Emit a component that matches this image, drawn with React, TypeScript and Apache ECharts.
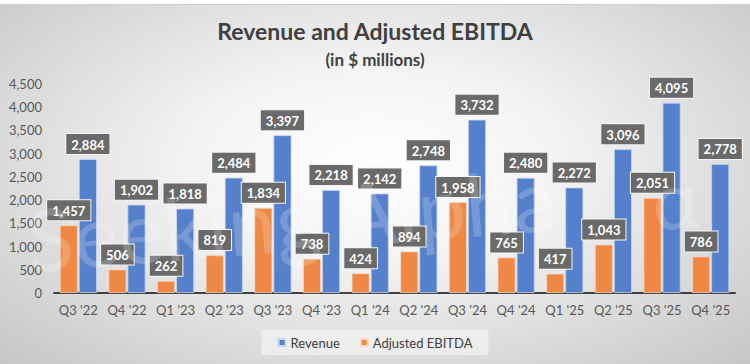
import React, { useEffect, useRef } from "react";
import * as echarts from "echarts";

const categories = ["Q3 '22", "Q4 '22", "Q1 '23", "Q2 '23", "Q3 '23", "Q4 '23", "Q1 '24", "Q2 '24", "Q3 '24", "Q4 '24", "Q1 '25", "Q2 '25", "Q3 '25", "Q4 '25"];
const revenue = [2884, 1902, 1818, 2484, 3397, 2218, 2142, 2748, 3732, 2480, 2272, 3096, 4095, 2778];
const ebitda = [1457, 506, 262, 819, 1834, 738, 424, 894, 1958, 765, 417, 1043, 2051, 786];

const FONT = "Lato, 'Open Sans', sans-serif";

export default function App() {
  const ref = useRef<HTMLDivElement>(null);
  useEffect(() => {
    document.body.style.margin = "0";
    const chart = echarts.init(ref.current!, null, { renderer: "svg" });
    const fmt = (v: number) => v.toLocaleString("en-US");
    const label = {
      show: true,
      position: "top",
      distance: 5,
      formatter: (p: any) => fmt(p.value),
      backgroundColor: "#6a6a6a",
      borderColor: "#f4f4f4",
      borderWidth: 1,
      padding: [4, 5, 3, 5],
      color: "#ffffff",
      fontWeight: "bold",
      fontSize: 13,
      fontFamily: FONT,
    };
    chart.setOption({
      animation: false,
      backgroundColor: "transparent",
      title: [
        {
          text: "Revenue and Adjusted EBITDA",
          left: "center",
          top: 14,
          textStyle: { fontSize: 23, fontWeight: "bold", color: "#404040", fontFamily: FONT },
        },
        {
          text: "(in $ millions)",
          left: "center",
          top: 46,
          textStyle: { fontSize: 17, fontWeight: "bold", color: "#404040", fontFamily: FONT },
        },
      ],
      legend: {
        data: ["Revenue", "Adjusted EBITDA"],
        bottom: 9,
        left: "center",
        itemWidth: 7,
        itemHeight: 7,
        itemGap: 20,
        icon: "rect",
        backgroundColor: "rgba(240,240,240,0.85)",
        padding: [6, 16, 6, 16],
        textStyle: { fontSize: 13, color: "#404040", fontFamily: FONT },
      },
      grid: { left: 54, right: 15, top: 84, bottom: 71 },
      xAxis: {
        type: "category",
        data: categories,
        axisLine: { lineStyle: { color: "#404040", width: 2 } },
        axisTick: { show: false },
        axisLabel: { interval: 0, fontSize: 13, color: "#595959", fontFamily: FONT, margin: 10 },
      },
      yAxis: {
        type: "value",
        min: 0,
        max: 4500,
        interval: 500,
        splitLine: { show: false },
        axisLine: { show: false },
        axisTick: { show: false },
        axisLabel: { fontSize: 13, color: "#595959", fontFamily: FONT, margin: 12, formatter: (v: number) => fmt(v) },
      },
      series: [
        {
          name: "Adjusted EBITDA",
          type: "bar",
          data: ebitda,
          barWidth: 18,
          barGap: "6%",
          itemStyle: { color: "#ee8844", borderColor: "#f6d9c4", borderWidth: 0.8 },
          label,
        },
        {
          name: "Revenue",
          type: "bar",
          data: revenue,
          barWidth: 18,
          barGap: "6%",
          itemStyle: { color: "#5580cc", borderColor: "#c9d6ee", borderWidth: 0.8 },
          label,
        },
      ],
      graphic: [
        {
          type: "rect",
          left: 0,
          top: 0,
          shape: { width: 750, height: 4 },
          style: { fill: "#ffffff" },
          z: 100,
        },
        {
          type: "line",
          shape: { x1: 0, y1: 4.5, x2: 750, y2: 4.5 },
          style: { stroke: "#cfcfcf", lineWidth: 1 },
          z: 100,
        },
        {
          type: "text",
          x: 30,
          y: 282,
          rotation: 0.08,
          style: {
            text: "Seeking Alpha",
            fontSize: 86,
            fontFamily: FONT,
            fill: "rgba(255,255,255,0.2)",
            textVerticalAlign: "bottom",
          },
          z: 50,
          silent: true,
        },
        {
          type: "text",
          x: 655,
          y: 240,
          rotation: 0.08,
          style: {
            text: "α",
            fontSize: 80,
            fontFamily: FONT,
            fill: "rgba(255,255,255,0.2)",
            textVerticalAlign: "bottom",
          },
          z: 50,
          silent: true,
        },
      ],
    });
    return () => chart.dispose();
  }, []);
  return (
    <div
      ref={ref}
      style={{
        position: "absolute",
        left: 0,
        top: 0,
        width: 750,
        height: 364,
        background: "radial-gradient(ellipse at 50% 45%, #ffffff 0%, #f3f3f3 35%, #c6c6c6 100%)",
      }}
    />
  );
}
